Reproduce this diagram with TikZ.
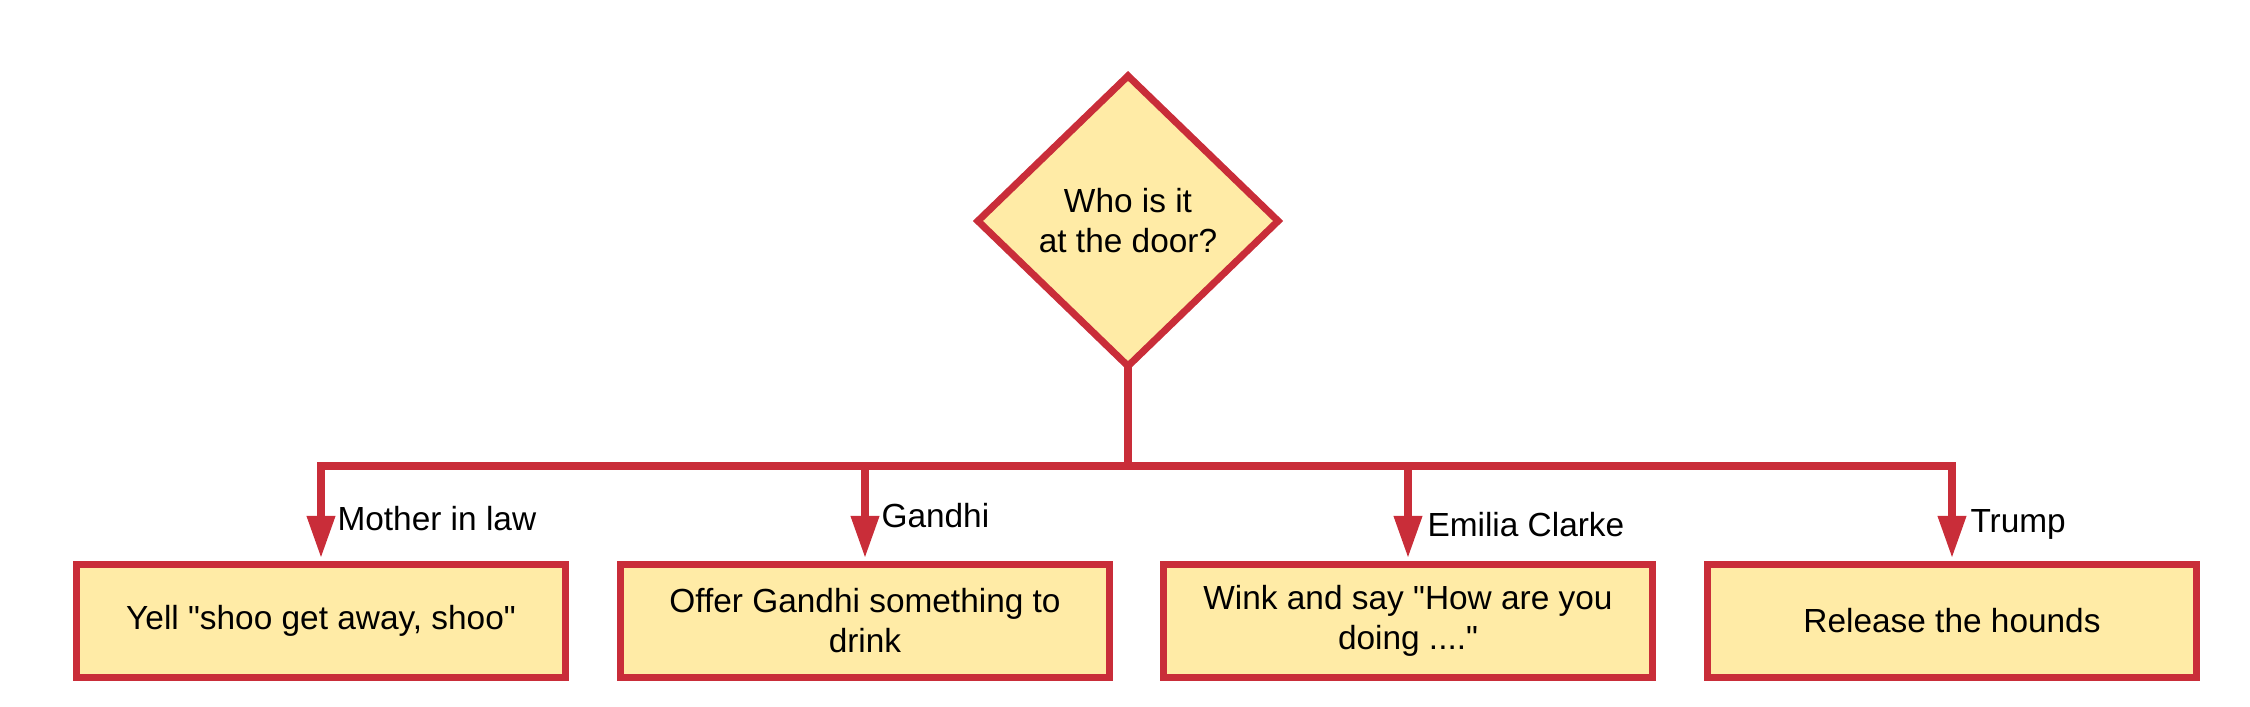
\documentclass[tikz,border=0pt]{standalone}
\usepackage{fontspec}
\setmainfont{Liberation Sans}
\usetikzlibrary{arrows.meta, positioning, shapes.geometric}
\definecolor{doorred}{HTML}{C92D39}
\definecolor{dooryellow}{HTML}{FFEBA6}
\newcommand{\dq}{\textquotedbl}

\begin{document}
\begin{tikzpicture}[x=0.01cm, y=-0.01cm, line width=2pt, font=\fontsize{9.5}{11.4}\selectfont,
  decision/.style={diamond, draw=doorred, fill=dooryellow, inner sep=0pt, outer sep=0pt, minimum width=3cm, minimum height=2.9cm, align=center},
  action/.style={rectangle, draw=doorred, fill=dooryellow, minimum width=4.89cm, minimum height=1.13cm, align=center, inner sep=0pt},
  branch/.style={draw=doorred, -{Triangle[length=0.42cm, width=0.27cm]}, shorten >=0.03cm},
  who/.style={anchor=base west, inner sep=0pt}]
  \useasboundingbox (0,0) rectangle (2250,707);

  % Frage
  \node[decision] (door) at (1128,221) {Who is it\\at the door?};
  \coordinate (split) at (1128,466);

  % Reaktionen
  \node[action] (shoo) at (321,621) {Yell \dq shoo get away, shoo\dq};
  \node[action] (drink) at (865,621) {Offer Gandhi something to\\drink};
  \node[action] (wink) at (1408,621) {Wink and say \dq How are you\\doing ....\dq};
  \node[action] (hounds) at (1952,621) {Release the hounds};

  % Verbindungen
  \draw[doorred] (door.south) -- (split);
  \draw[branch] (split) -| (shoo.north);
  \draw[branch] (split) -| (drink.north);
  \draw[branch] (split) -| (wink.north);
  \draw[branch] (split) -| (hounds.north);

  % Beschriftungen
  \node[who] (lshoo) at (334,531) {Mother in law};
  \node[who] (ldrink) at (878,528) {Gandhi};
  \node[who] (lwink) at (1424,537) {Emilia Clarke};
  \node[who] (lhounds) at (1967,533) {Trump};
\end{tikzpicture}
\end{document}
